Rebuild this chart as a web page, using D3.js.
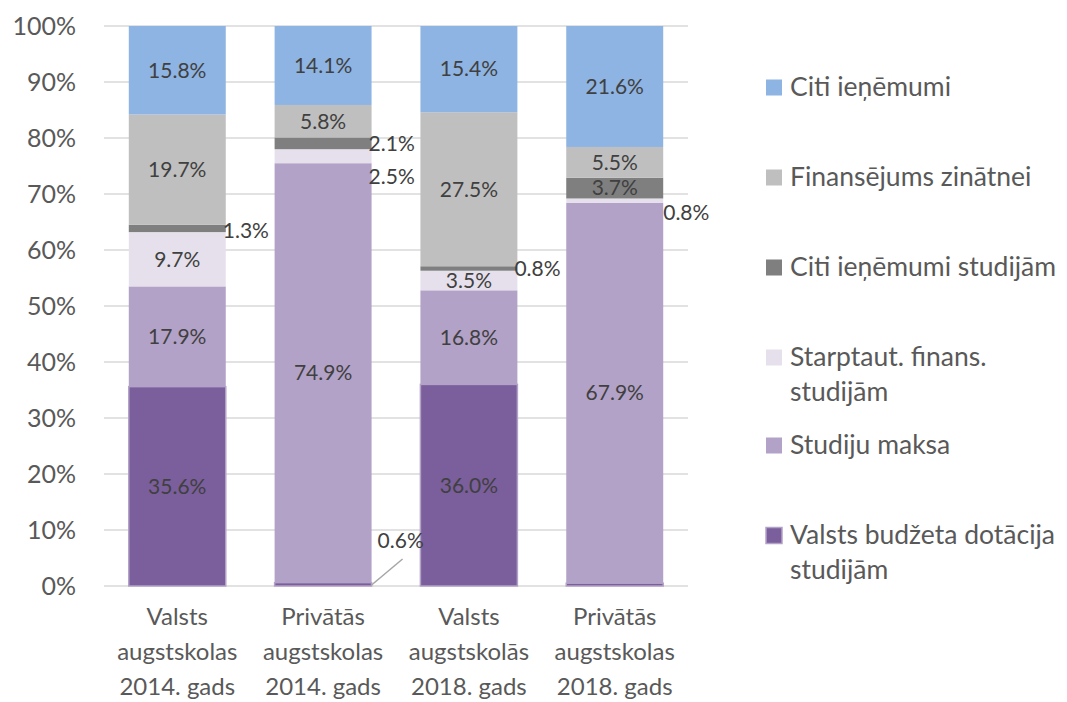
<!DOCTYPE html>
<html><head><meta charset="utf-8">
<script src="https://cdn.jsdelivr.net/npm/d3@7"></script>
<style>
body{margin:0;background:#fff;}
text{font-family:Lato,"Open Sans",sans-serif;}
</style></head>
<body><svg id="c" width="1067" height="702"></svg>
<script>
const categories = [
  ["Valsts","augstskolas","2014. gads"],
  ["Privātās","augstskolas","2014. gads"],
  ["Valsts","augstskolās","2018. gads"],
  ["Privātās","augstskolas","2018. gads"]
];
const seriesNames = ["Valsts budžeta dotācija studijām","Studiju maksa","Starptaut. finans. studijām","Citi ieņēmumi studijām","Finansējums zinātnei","Citi ieņēmumi"];
const valstsBudzets = [35.6, 0.6, 36.0, 0.5];
const studijuMaksa = [17.9, 74.9, 16.8, 67.9];
const starptaut = [9.7, 2.5, 3.5, 0.8];
const citiStudijam = [1.3, 2.1, 0.8, 3.7];
const zinatne = [19.7, 5.8, 27.5, 5.5];
const citiIenemumi = [15.8, 14.1, 15.4, 21.6];
const yTicks = [0,10,20,30,40,50,60,70,80,90,100];
const colors = ["#7b5e9c","#b3a2c7","#e6e0ec","#7f7f7f","#bfbfbf","#8eb4e3"];

const seriesValues = [valstsBudzets, studijuMaksa, starptaut, citiStudijam, zinatne, citiIenemumi];
const svg = d3.select("#c");
const x = d3.scaleBand().domain(d3.range(categories.length)).range([104, 688]).paddingInner(0.335).paddingOuter(0.17);
const y = d3.scaleLinear().domain([0,100]).range([586, 26]);

svg.append("g").selectAll("line").data(yTicks).join("line")
  .attr("x1",104).attr("x2",688).attr("y1",d=>y(d)).attr("y2",d=>y(d))
  .attr("stroke","#d9d9d9").attr("stroke-width",1.3);

svg.append("g").selectAll("text").data(yTicks).join("text")
  .attr("x",76).attr("y",d=>y(d)).attr("dy","0.35em").attr("text-anchor","end")
  .attr("font-size",25).attr("fill","#595959").text(d=>d+"%");

const rows = categories.map((c,i)=>{const o={}; seriesValues.forEach((s,j)=>o[j]=s[i]); return o;});
const stack = d3.stack().keys(d3.range(seriesValues.length))(rows);

const bw = x.bandwidth();
stack.forEach((layer,j)=>{
  svg.append("g").selectAll("rect").data(layer).join("rect")
    .attr("x",(d,i)=>x(i)).attr("width",bw)
    .attr("y",d=>y(d[1])).attr("height",d=>Math.max(0,y(d[0])-y(d[1])))
    .attr("fill",colors[j])
    .attr("stroke", j===0 ? "#b3a2c7" : "none").attr("stroke-width", j===0?1.5:0);
});

const LFS = 21;
const outside = {"0-3":[0,2],"1-3":[0,0],"1-2":[0,20],"2-3":[0,0],"3-2":[3,12]};
const lbl = svg.append("g");
stack.forEach((layer,j)=>{
  layer.forEach((d,i)=>{
    const v = seriesValues[j][i];
    if (j===0 && i===3) return;
    const key = i+"-"+j;
    const cy = (y(d[0])+y(d[1]))/2;
    if (j===0 && i===1) {
      const bx = x(i)+bw;
      lbl.append("line").attr("x1",bx).attr("y1",y(0)-1).attr("x2",bx+31).attr("y2",y(0)-27)
        .attr("stroke","#a6a6a6").attr("stroke-width",1.5);
      lbl.append("text").attr("x",bx+6).attr("y",y(0)-45).attr("dy","0.35em")
        .attr("font-size",LFS).attr("fill","#404040").text(v.toFixed(1)+"%");
      return;
    }
    if (outside[key]) {
      lbl.append("text").attr("x",x(i)+bw-3+outside[key][0]).attr("y",cy+outside[key][1]).attr("dy","0.35em")
        .attr("font-size",LFS).attr("fill","#404040").text(v.toFixed(1)+"%");
    } else {
      lbl.append("text").attr("x",x(i)+bw/2).attr("y",cy).attr("dy","0.35em").attr("text-anchor","middle")
        .attr("font-size",LFS).attr("fill","#404040").text(v.toFixed(1)+"%");
    }
  });
});

const xl = svg.append("g");
categories.forEach((c,i)=>{
  const t = xl.append("text").attr("text-anchor","middle").attr("font-size",24).attr("fill","#595959");
  c.forEach((line,k)=>{
    t.append("tspan").attr("x",x(i)+bw/2).attr("y",617+k*35).attr("dy","0.35em").text(line);
  });
});

const legendItems = [
  {s:5, lines:["Citi ieņēmumi"], y:87},
  {s:4, lines:["Finansējums zinātnei"], y:177},
  {s:3, lines:["Citi ieņēmumi studijām"], y:267},
  {s:2, lines:["Starptaut. finans.","studijām"], y:357},
  {s:1, lines:["Studiju maksa"], y:445},
  {s:0, lines:["Valsts budžeta dotācija","studijām"], y:535}
];
const lg = svg.append("g");
legendItems.forEach(it=>{
  lg.append("rect").attr("x",766).attr("y",it.y-7.5).attr("width",16).attr("height",16)
    .attr("fill",colors[it.s]).attr("stroke",it.s===0?"#b3a2c7":"none").attr("stroke-width",1.5);
  const t = lg.append("text").attr("font-size",26.5).attr("fill","#595959");
  it.lines.forEach((l,k)=>t.append("tspan").attr("x",790).attr("y",it.y+k*35).attr("dy","0.35em").text(l));
});
</script></body></html>
